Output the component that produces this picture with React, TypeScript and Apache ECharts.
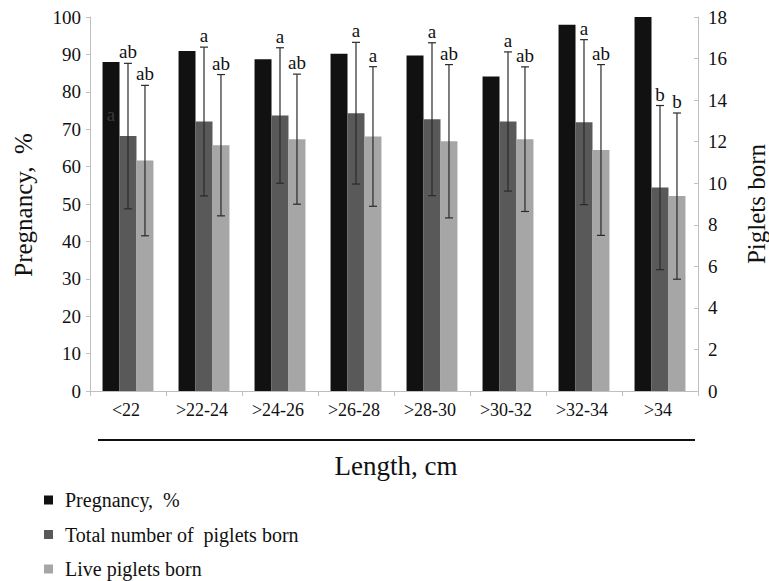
import React, { useEffect, useRef } from "react";
import * as echarts from "echarts";

const categories = ["<22", ">22-24", ">24-26", ">26-28", ">28-30", ">30-32", ">32-34", ">34"];
const pregnancy = [88.0, 90.9, 88.7, 90.2, 89.7, 84.1, 97.9, 100];
const totalBorn = [12.27, 12.97, 13.26, 13.37, 13.08, 12.97, 12.94, 9.79];
const totalSD = [3.5, 3.58, 3.26, 3.41, 3.68, 3.35, 3.97, 3.95];
const liveBorn = [11.09, 11.83, 12.12, 12.25, 12.02, 12.12, 11.6, 9.38];
const liveSD = [3.62, 3.4, 3.13, 3.36, 3.69, 3.48, 4.11, 4.0];
const totalLetters = ["ab", "a", "a", "a", "a", "a", "a", "b"];
const liveLetters = ["ab", "ab", "ab", "a", "ab", "ab", "ab", "b"];
const pregnancyNote = [{ idx: 0, value: 74, letter: "a" }];
const leftTicks = [0, 10, 20, 30, 40, 50, 60, 70, 80, 90, 100];
const rightTicks = [0, 2, 4, 6, 8, 10, 12, 14, 16, 18];

const seriesNames = ["Pregnancy,  %", "Total number of  piglets born", "Live piglets born"];
const leftAxisName = "Pregnancy,  %";
const rightAxisName = "Piglets born";
const xAxisName = "Length, cm";
const colors = ["#111111", "#595959", "#a6a6a6"];
const FONT = "Liberation Serif";
const CAT_GAP = 0.33;

function txt(text: string, x: number, y: number, size: number, align: string, vAlign: string, fill = "#111") {
  return {
    type: "text",
    style: { text, x, y, align, verticalAlign: vAlign, fontFamily: FONT, fontSize: size, fill },
  };
}

function errorRender(slot: number, letters: string[]) {
  return (params: any, api: any) => {
    const idx = api.value(0);
    const mean = api.value(1);
    const sd = api.value(2);
    const band = api.size([1, 0])[0];
    const bw = (band * (1 - CAT_GAP)) / 3;
    const top = api.coord([idx, mean + sd]);
    const bot = api.coord([idx, mean - sd]);
    const x = top[0] + slot * bw;
    const cap = 4;
    const st = { stroke: "#2a2a2a", lineWidth: 1.2 };
    return {
      type: "group",
      children: [
        { type: "line", shape: { x1: x, y1: top[1], x2: x, y2: bot[1] }, style: st },
        { type: "line", shape: { x1: x - cap, y1: top[1], x2: x + cap, y2: top[1] }, style: st },
        { type: "line", shape: { x1: x - cap, y1: bot[1], x2: x + cap, y2: bot[1] }, style: st },
        txt(letters[idx], x, top[1] - 2, 19, "center", "bottom"),
      ],
    };
  };
}

export default function App() {
  const ref = useRef<HTMLDivElement>(null);
  useEffect(() => {
    if (!ref.current) return;
    const chart = echarts.init(ref.current, null, { renderer: "svg" });
    const axisLine = { show: true, lineStyle: { color: "#bfbfbf", width: 1 } };
    const barCommon = { barGap: "0%", barCategoryGap: `${CAT_GAP * 100}%` };
    const option: any = {
      animation: false,
      backgroundColor: "#ffffff",
      grid: { left: 90, top: 17, width: 608, height: 374 },
      xAxis: {
        type: "category",
        data: categories,
        axisLine,
        axisTick: { show: true, length: 5, lineStyle: { color: "#bfbfbf" } },
        axisLabel: { show: false },
      },
      yAxis: [
        {
          type: "value",
          min: 0,
          max: 100,
          interval: 10,
          axisLine,
          axisTick: { show: true, length: 4, lineStyle: { color: "#bfbfbf" } },
          splitLine: { show: false },
          axisLabel: { show: false },
        },
        {
          type: "value",
          min: 0,
          max: 18,
          interval: 2,
          axisLine,
          axisTick: { show: true, length: 4, inside: true, lineStyle: { color: "#bfbfbf" } },
          splitLine: { show: false },
          axisLabel: { show: false },
        },
      ],
      series: [
        { name: seriesNames[0], type: "bar", yAxisIndex: 0, data: pregnancy, itemStyle: { color: colors[0] }, ...barCommon },
        { name: seriesNames[1], type: "bar", yAxisIndex: 1, data: totalBorn, itemStyle: { color: colors[1] }, ...barCommon },
        { name: seriesNames[2], type: "bar", yAxisIndex: 1, data: liveBorn, itemStyle: { color: colors[2] }, ...barCommon },
        {
          type: "custom",
          yAxisIndex: 1,
          clip: false,
          z: 5,
          data: totalBorn.map((v, i) => [i, v, totalSD[i]]),
          renderItem: errorRender(0, totalLetters),
        },
        {
          type: "custom",
          yAxisIndex: 1,
          clip: false,
          z: 5,
          data: liveBorn.map((v, i) => [i, v, liveSD[i]]),
          renderItem: errorRender(1, liveLetters),
        },
        {
          type: "custom",
          yAxisIndex: 0,
          clip: false,
          z: 5,
          data: pregnancyNote.map((d) => [d.idx, d.value]),
          renderItem: (params: any, api: any) => {
            const p = api.coord([api.value(0), api.value(1)]);
            const band = api.size([1, 0])[0];
            const bw = (band * (1 - CAT_GAP)) / 3;
            return txt(pregnancyNote[params.dataIndex].letter, p[0] - bw, p[1], 19, "center", "middle", "#3a3a3a");
          },
        },
        {
          // category tick labels
          type: "custom",
          yAxisIndex: 0,
          clip: false,
          silent: true,
          data: categories.map((c, i) => [i, 0]),
          renderItem: (params: any, api: any) => {
            const p = api.coord([api.value(0), 0]);
            return txt(categories[params.dataIndex], p[0] - 2, p[1] + 19, 18, "center", "middle");
          },
        },
        {
          // left axis tick labels
          type: "custom",
          yAxisIndex: 0,
          clip: false,
          silent: true,
          data: leftTicks.map((v) => [0, v]),
          renderItem: (params: any, api: any) => {
            const p = api.coord([0, api.value(1)]);
            return txt(String(leftTicks[params.dataIndex]), params.coordSys.x - 9, p[1], 19, "right", "middle");
          },
        },
        {
          // right axis tick labels
          type: "custom",
          yAxisIndex: 1,
          clip: false,
          silent: true,
          data: rightTicks.map((v) => [0, v]),
          renderItem: (params: any, api: any) => {
            const p = api.coord([0, api.value(1)]);
            const cs = params.coordSys;
            return txt(String(rightTicks[params.dataIndex]), cs.x + cs.width + 10, p[1], 19, "left", "middle");
          },
        },
      ],
      graphic: [
        {
          type: "line",
          shape: { x1: 98, y1: 440, x2: 695, y2: 440 },
          style: { stroke: "#111", lineWidth: 2 },
        },
        { ...txt(xAxisName, 396, 466, 27, "center", "middle") },
        {
          type: "text",
          x: 23,
          y: 205,
          rotation: Math.PI / 2,
          style: { text: leftAxisName, align: "center", verticalAlign: "middle", fontFamily: FONT, fontSize: 25, fill: "#111" },
        },
        {
          type: "text",
          x: 756,
          y: 204,
          rotation: Math.PI / 2,
          style: { text: rightAxisName, align: "center", verticalAlign: "middle", fontFamily: FONT, fontSize: 25, fill: "#111" },
        },
        ...seriesNames.flatMap((name, i) => [
          { type: "rect", shape: { x: 44, y: 495.5 + i * 34.5, width: 9, height: 9 }, style: { fill: colors[i] } },
          txt(name, 65, 500 + i * 34.5, 20, "left", "middle"),
        ]),
      ],
    };
    chart.setOption(option);
    return () => chart.dispose();
  }, []);
  return (
    <div
      ref={ref}
      style={{ position: "fixed", left: 0, top: 0, width: 769, height: 581, background: "#fff" }}
    />
  );
}
